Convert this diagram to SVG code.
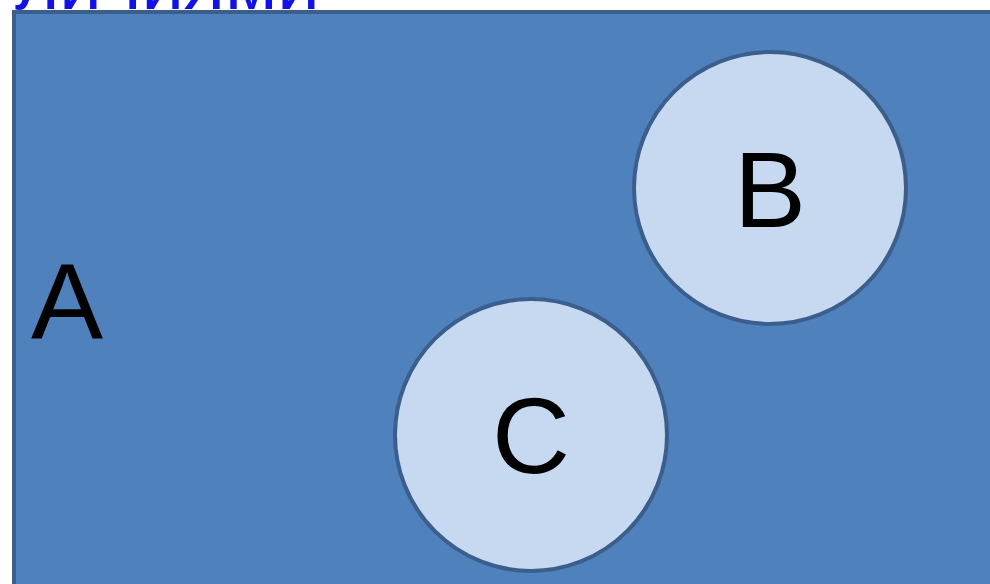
<svg xmlns="http://www.w3.org/2000/svg" width="990" height="584" viewBox="0 0 990 584">
  <style>
    .lbl { font-family: "Liberation Sans", Arial, sans-serif; font-size: 108px; fill: #000; }
    .set { fill: #c6d9f1; stroke: #3b5e8c; stroke-width: 4; }
    .title { font-family: "Liberation Sans", Arial, sans-serif; font-size: 76px; fill: #1212e8; }
  </style>
  <rect width="990" height="584" fill="#ffffff"/>
  <!-- heading line, partly above the top edge -->
  <text class="title" x="15" y="9">личиями</text>
  <g id="A">
    <rect x="14" y="12" width="990" height="600" fill="#4f81bd" stroke="#3b5e8c" stroke-width="4"/>
    <text class="lbl" x="31" y="339">A</text>
  </g>
  <g id="B">
    <circle class="set" cx="770" cy="188" r="136"/>
    <text class="lbl" x="770" y="227" text-anchor="middle">B</text>
  </g>
  <g id="C">
    <circle class="set" cx="531" cy="435" r="136"/>
    <text class="lbl" x="531" y="473" text-anchor="middle">C</text>
  </g>
  <g id="connectors"/>
</svg>
